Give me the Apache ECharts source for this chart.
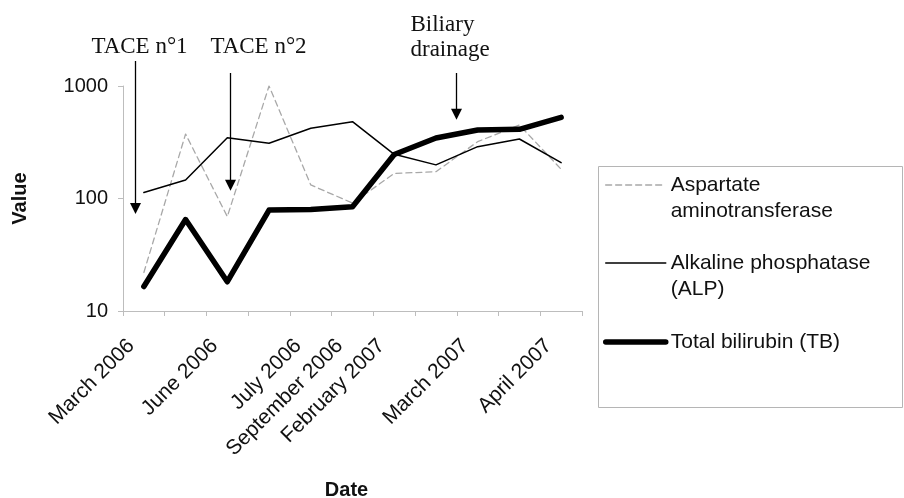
<!DOCTYPE html>
<html><head><meta charset="utf-8">
<script src="https://cdn.jsdelivr.net/npm/echarts@6/dist/echarts.min.js"></script>
<style>html,body{margin:0;padding:0;background:#fff}#c{width:904px;height:498px}</style>
</head><body><div id="c"></div>
<script>
// ---- data ----
const categories = ['March 2006', '', 'June 2006', '', 'July 2006', 'September 2006', 'February 2007', '', 'March 2007', '', 'April 2007'];
const astValues = [22, 374, 69, 1000, 132, 91, 167, 173, 320, 450, 182];
const alpValues = [113, 146, 347, 310, 421, 482, 247, 199, 289, 338, 208];
const tbValues = [16.5, 65, 18.2, 79, 80, 84.5, 246, 345, 406, 412, 527];
const yTicks = [10, 100, 1000];
const seriesNames = ['Aspartate aminotransferase', 'Alkaline phosphatase (ALP)', 'Total bilirubin (TB)'];
const legendLabels = ['\nAspartate\naminotransferase', '\nAlkaline phosphatase\n(ALP)', 'Total bilirubin (TB)'];
const annotationLabels = ['TACE n°1', 'TACE n°2', 'Biliary\ndrainage'];
const annotationCategoryPos = [-0.21, 2.07, 7.49];
const annotationTipValues = [73, 117, 500];

// ---- layout / style ----
const sans = '"Liberation Sans", Arial, sans-serif';
const serif = '"Liberation Serif", "Times New Roman", serif';
const axisGrey = '#bdbdbd';
const legendTops = [146, 224, 329];
const legendLefts = [605, 605, 603];
const annotationLayout = [
  { top: 61, textDx: 4, textY: 47, align: 'center' },
  { top: 73, textDx: 28, textY: 47, align: 'center' },
  { top: 73, textDx: -46, textY: 12, align: 'left' }
];

const chart = echarts.init(document.getElementById('c'), null, { renderer: 'canvas' });

const styles = [
  { color: '#a8a8a8', width: 1.3, type: [6, 4] },
  { color: '#000', width: 1.5, type: 'solid' },
  { color: '#000', width: 5.5, type: 'solid' }
];
const valueSets = [astValues, alpValues, tbValues];

const option = {
  animation: false,
  backgroundColor: '#fff',
  grid: { left: 123, right: 322, top: 86, bottom: 187, containLabel: false, outerBoundsMode: 'none' },
  xAxis: {
    type: 'category',
    data: categories,
    boundaryGap: true,
    axisLine: { show: true, lineStyle: { color: axisGrey, width: 1 } },
    axisTick: { show: true, interval: 0, length: 5, lineStyle: { color: axisGrey } },
    axisLabel: { interval: 0, rotate: 45, margin: 19, padding: [0, 18, 0, 0], fontFamily: sans, fontSize: 21, color: '#111' },
    splitLine: { show: false },
    name: 'Date', nameLocation: 'middle', nameGap: 169,
    nameTextStyle: { fontFamily: sans, fontSize: 20, fontWeight: 'bold', color: '#111', padding: [0, 12, 0, 0] }
  },
  yAxis: {
    type: 'log', logBase: 10, min: 10, max: 1000,
    axisLine: { show: true, lineStyle: { color: axisGrey, width: 1 } },
    axisTick: { show: true, length: 5, inside: false, lineStyle: { color: axisGrey } },
    axisLabel: {
      margin: 15, fontFamily: sans, fontSize: 20, color: '#111',
      formatter: v => (yTicks.some(t => Math.abs(t - v) < 1e-6) ? String(Math.round(v)) : '')
    },
    splitLine: { show: false },
    minorTick: { show: false },
    name: 'Value', nameLocation: 'middle', nameGap: 93, nameRotate: 90,
    nameTextStyle: { fontFamily: sans, fontSize: 20, fontWeight: 'bold', color: '#111' }
  },
  legend: seriesNames.map((n, i) => ({
    data: [n],
    left: legendLefts[i], top: legendTops[i], orient: 'vertical', padding: 0,
    itemWidth: 60, itemHeight: 14, selectedMode: false,
    formatter: () => legendLabels[i],
    itemStyle: { opacity: 0, borderWidth: 0 },
    lineStyle: { width: styles[i].width, color: styles[i].color, type: styles[i].type, opacity: 1 },
    textStyle: { fontFamily: sans, fontSize: 21, lineHeight: 26, color: '#111' }
  })),
  series: seriesNames.map((n, i) => ({
    name: n, type: 'line', data: valueSets[i], symbol: 'none', silent: true,
    z: 2 + i,
    lineStyle: { color: styles[i].color, width: styles[i].width, type: styles[i].type, cap: 'round', join: 'round' },
    itemStyle: { color: styles[i].color }
  })),
  graphic: []
};
chart.setOption(option);

// annotations anchored through the axes
const x0 = chart.convertToPixel({ xAxisIndex: 0 }, 0);
const bw = chart.convertToPixel({ xAxisIndex: 0 }, 1) - x0;
const graphics = [{
  type: 'rect', silent: true, z: 0,
  shape: { x: 598.5, y: 166.5, width: 304, height: 241 },
  style: { fill: 'none', stroke: '#b5b5b5', lineWidth: 1 }
}];
annotationLabels.forEach((label, i) => {
  const L = annotationLayout[i];
  const x = Math.round(x0 + annotationCategoryPos[i] * bw) + 0.5;
  const tip = chart.convertToPixel({ yAxisIndex: 0 }, annotationTipValues[i]);
  const headH = 11, headW = 11;
  graphics.push({
    type: 'line', silent: true, z: 10,
    shape: { x1: x, y1: L.top, x2: x, y2: tip - headH + 1 },
    style: { stroke: '#000', lineWidth: 1.3 }
  });
  graphics.push({
    type: 'polygon', silent: true, z: 10,
    shape: { points: [[x - headW / 2, tip - headH], [x + headW / 2, tip - headH], [x, tip]] },
    style: { fill: '#000' }
  });
  graphics.push({
    type: 'text', silent: true, z: 10,
    style: {
      text: label, x: x + L.textDx, y: L.textY,
      align: L.align, verticalAlign: label.indexOf('\n') >= 0 ? 'top' : 'middle',
      font: '23px ' + serif, lineHeight: 25, fill: '#111'
    }
  });
});
chart.setOption({ graphic: graphics });
</script>
</body></html>
